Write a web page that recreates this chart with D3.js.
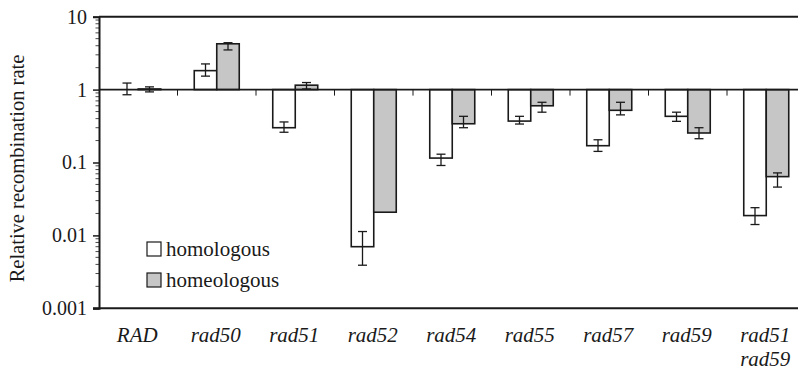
<!DOCTYPE html>
<html><head><meta charset="utf-8"><script src="https://cdn.jsdelivr.net/npm/d3@7"></script></head><body style="margin:0">
<script>
const categories = ["RAD","rad50","rad51","rad52","rad54","rad55","rad57","rad59","rad51\nrad59"];
const homologous      = [1.0, 1.82, 0.30, 0.0070, 0.115, 0.37, 0.17, 0.43, 0.0187];
const homologousLow   = [0.85, 1.53, 0.26, 0.0039, 0.091, 0.337, 0.142, 0.367, 0.0141];
const homologousHigh  = [1.23, 2.25, 0.36, 0.0113, 0.13, 0.43, 0.205, 0.49, 0.024];
const homeologous     = [1.02, 4.25, 1.15, 0.0208, 0.34, 0.60, 0.52, 0.254, 0.064];
const homeologousLow  = [0.93, 3.5, 1.02, null, 0.30, 0.49, 0.45, 0.212, 0.046];
const homeologousHigh = [1.09, 4.4, 1.25, null, 0.43, 0.67, 0.67, 0.30, 0.072];
const yTicks = [0.001, 0.01, 0.1, 1, 10];
const yTickLabels = ["0.001","0.01","0.1","1","10"];
const legendLabels = ["homologous","homeologous"];

const W = 798, H = 370;
const mLeft = 99, mTop = 16.7, mBottom = 308.3, mRight = 99 + 78.5 * 9;
const ink = "#1a1a1a";
const FF = '"Liberation Serif", "FreeSerif", "Times New Roman"';

const svg = d3.select("body").append("svg").attr("width", W).attr("height", H);
const yS = d3.scaleLog().domain([0.001, 10]).range([mBottom, mTop]);
const xS = d3.scaleBand().domain(categories).range([mLeft, mRight]).padding(0);
const barW = 22.5;

const series = [
  {vals: homologous, lo: homologousLow, hi: homologousHigh, fill: "#ffffff", off: -barW},
  {vals: homeologous, lo: homeologousLow, hi: homeologousHigh, fill: "#c6c6c6", off: 0}
];

series.forEach(s => {
  svg.append("g").selectAll("rect").data(categories).join("rect")
    .attr("x", (c) => xS(c) + xS.bandwidth()/2 + s.off)
    .attr("width", barW)
    .attr("y", (c,i) => Math.min(yS(s.vals[i]), yS(1)))
    .attr("height", (c,i) => Math.abs(yS(s.vals[i]) - yS(1)))
    .attr("fill", s.fill).attr("stroke", ink).attr("stroke-width", 1.6);
});

series.forEach(s => {
  const g = svg.append("g").attr("stroke", ink).attr("stroke-width", 1.3);
  categories.forEach((c, i) => {
    if (s.lo[i] == null) return;
    const cx = xS(c) + xS.bandwidth()/2 + s.off + barW/2;
    g.append("line").attr("x1", cx).attr("x2", cx).attr("y1", yS(s.hi[i])).attr("y2", yS(s.lo[i]));
    [s.hi[i], s.lo[i]].forEach(v => {
      g.append("line").attr("x1", cx-4.5).attr("x2", cx+4.5).attr("y1", yS(v)).attr("y2", yS(v));
    });
  });
});

svg.append("line").attr("x1", mLeft).attr("x2", W).attr("y1", yS(1)).attr("y2", yS(1))
  .attr("stroke", ink).attr("stroke-width", 1.6);
svg.append("g").selectAll("line").data(categories.slice(1)).join("line")
  .attr("x1", c => xS(c)).attr("x2", c => xS(c))
  .attr("y1", yS(1)).attr("y2", yS(1) + 6)
  .attr("stroke", ink).attr("stroke-width", 1);

svg.append("line").attr("x1", mLeft).attr("x2", W).attr("y1", mTop).attr("y2", mTop)
  .attr("stroke", ink).attr("stroke-width", 2);
svg.append("line").attr("x1", mLeft - 6).attr("x2", W).attr("y1", mBottom).attr("y2", mBottom)
  .attr("stroke", ink).attr("stroke-width", 2);

const yAxis = d3.axisLeft(yS).tickValues(yTicks).tickFormat((d,i) => yTickLabels[i]).tickSize(6).tickPadding(6);
const ya = svg.append("g").attr("transform", `translate(${mLeft},0)`).call(yAxis);
ya.attr("font-family", null).attr("font-size", null);
ya.select(".domain").attr("stroke", ink).attr("stroke-width", 2);
ya.selectAll(".tick line").attr("stroke", ink).attr("stroke-width", 1.5);
ya.selectAll(".tick text").attr("font-family", FF).attr("font-size", 20).attr("fill", ink);
const minor = [];
for (let e = -3; e < 1; e++) for (let m = 2; m <= 9; m++) minor.push(m * Math.pow(10, e));
svg.append("g").selectAll("line").data(minor).join("line")
  .attr("x1", mLeft - 3.5).attr("x2", mLeft).attr("y1", d => yS(d)).attr("y2", d => yS(d))
  .attr("stroke", ink).attr("stroke-width", 0.8);

svg.append("text").attr("transform", `translate(24,${(mTop+mBottom)/2 + 6}) rotate(-90)`)
  .attr("text-anchor", "middle").attr("font-family", FF).attr("font-size", 20.5).attr("fill", ink)
  .text("Relative recombination rate");

categories.forEach(c => {
  const lines = c.split("\n");
  lines.forEach((ln, k) => {
    svg.append("text").attr("x", xS(c) + xS.bandwidth()/2 - 1).attr("y", 342 + k * 24)
      .attr("text-anchor", "middle").attr("font-family", FF).attr("font-style", "italic")
      .attr("font-size", 21).attr("fill", ink).text(ln);
  });
});

legendLabels.forEach((lab, i) => {
  const yy = 242 + i * 31;
  svg.append("rect").attr("x", 147).attr("y", yy).attr("width", 14).attr("height", 14)
    .attr("fill", series[i].fill).attr("stroke", ink).attr("stroke-width", 1.2);
  svg.append("text").attr("x", 166).attr("y", yy + 14)
    .attr("font-family", FF).attr("font-size", 21).attr("fill", ink).text(lab);
});
</script>
</body></html>
